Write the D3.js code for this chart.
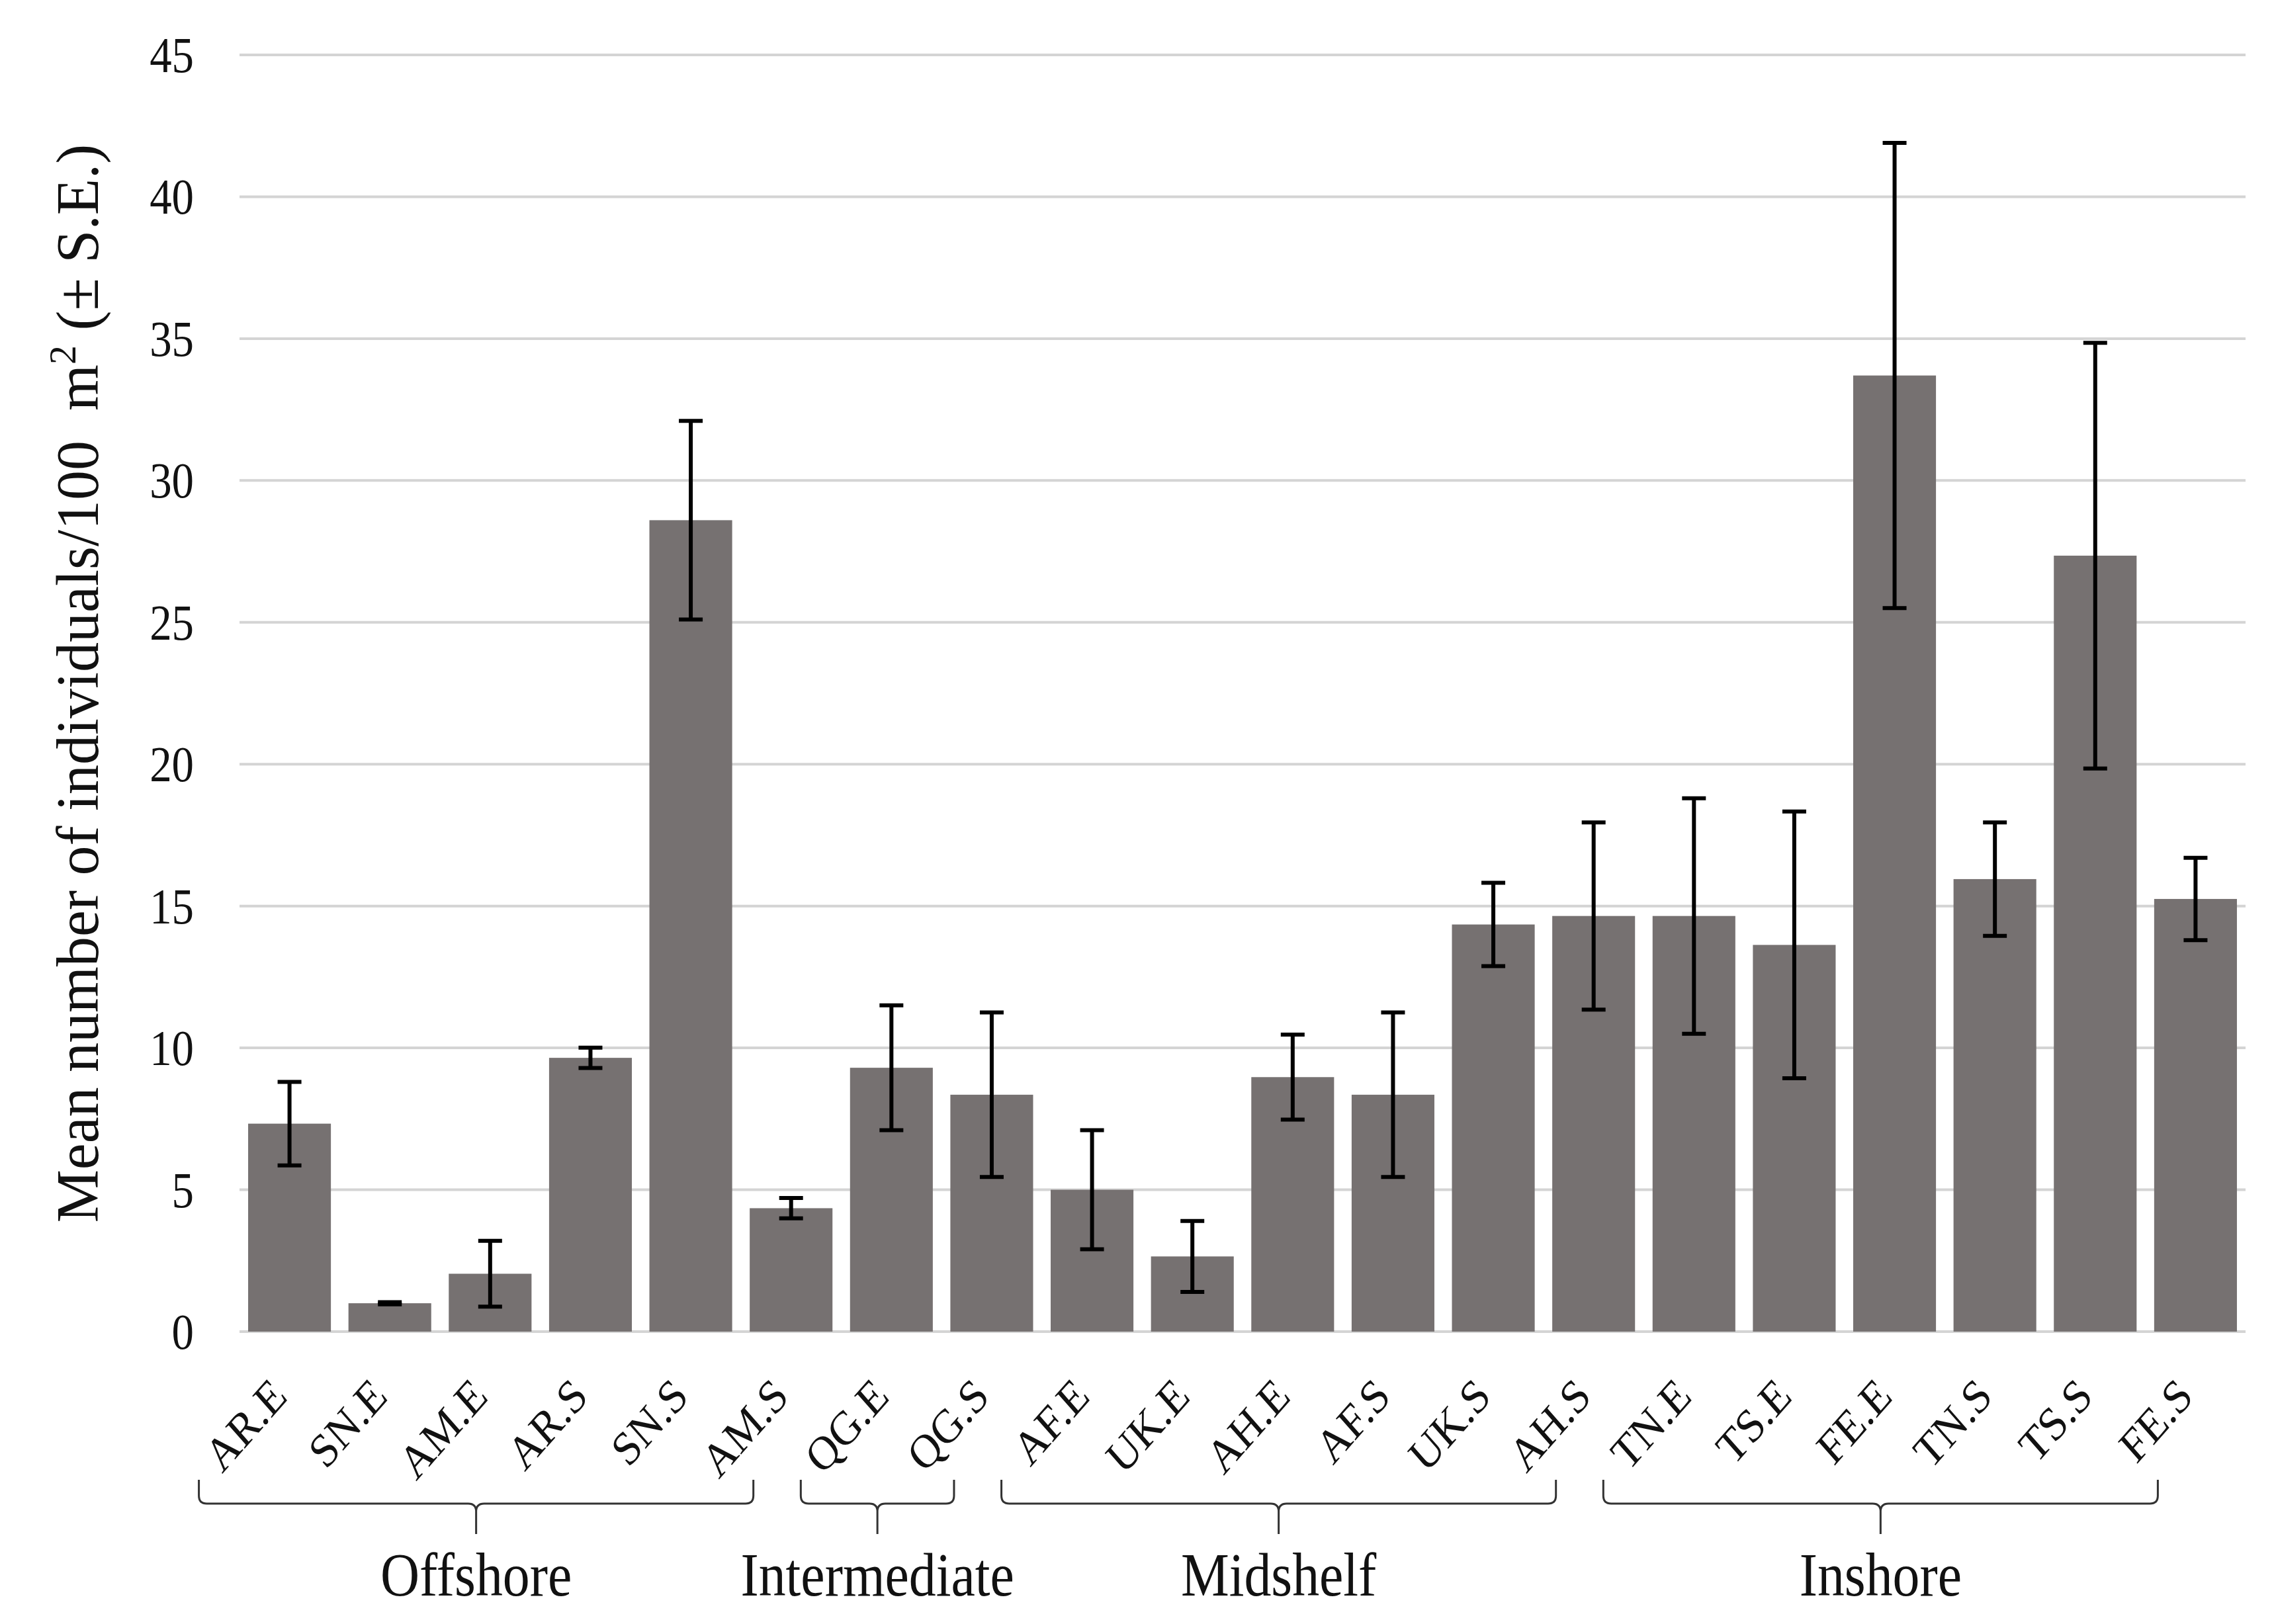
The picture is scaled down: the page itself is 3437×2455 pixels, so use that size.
<!DOCTYPE html>
<html>
<head>
<meta charset="utf-8">
<script src="https://cdn.jsdelivr.net/npm/d3@7"></script>
<style>
  body { margin: 0; background: #fff; }
  svg { display: block; font-family: "Liberation Serif", "Times New Roman", serif; }
</style>
</head>
<body>
<div id="chart"></div>
<script>
// Data
const sites = ["AR.E", "SN.E", "AM.E", "AR.S", "SN.S", "AM.S", "QG.E", "QG.S", "AF.E", "UK.E",
    "AH.E", "AF.S", "UK.S", "AH.S", "TN.E", "TS.E", "FE.E", "TN.S", "TS.S", "FE.S"];
const means = [7.33, 1.0, 2.04, 9.65, 28.6, 4.35, 9.3, 8.35, 5.0, 2.65,
    8.97, 8.35, 14.35, 14.65, 14.65, 13.63, 33.7, 15.95, 27.35, 15.25];
const se = [1.47, 0.04, 1.16, 0.36, 3.5, 0.36, 2.2, 2.9, 2.1, 1.25,
    1.5, 2.9, 1.47, 3.3, 4.15, 4.7, 8.2, 2.0, 7.5, 1.45];
const groups = ["Offshore", "Intermediate", "Midshelf", "Inshore"];
const groupFirst = ["AR.E", "QG.E", "AF.E", "TN.E"];
const groupLast = ["AM.S", "QG.S", "AH.S", "FE.S"];
const yTicks = [0, 5, 10, 15, 20, 25, 30, 35, 40, 45];

const width = 3437;
const height = 2455;
const plot = { left: 362, right: 3394, top: 83, bottom: 2013 };
const squash = 0.88; // text in the figure is slightly condensed

const svg = d3.select("#chart")
    .append("svg")
    .attr("width", width)
    .attr("height", height);

const x = d3.scaleBand()
    .domain(sites)
    .range([plot.left, plot.right])
    .paddingInner(0.175)
    .paddingOuter(0.086);

const y = d3.scaleLinear()
    .domain([0, 45])
    .range([plot.bottom, plot.top]);

// Gridlines
svg.append("g")
    .selectAll("line")
    .data(yTicks)
    .enter()
    .append("line")
    .attr("x1", plot.left)
    .attr("x2", plot.right)
    .attr("y1", d => y(d))
    .attr("y2", d => y(d))
    .attr("stroke", "#d4d4d4")
    .attr("stroke-width", 4);

// Y tick labels
svg.append("g")
    .selectAll("text")
    .data(yTicks)
    .enter()
    .append("text")
    .attr("transform", d => `translate(293, ${y(d) + 26}) scale(0.88, 1)`)
    .attr("text-anchor", "end")
    .style("font-size", "76px")
    .attr("fill", "#111")
    .text(d => d);

// Bars
const data = sites.map((s, i) => ({ site: s, mean: means[i], se: se[i] }));

svg.append("g")
    .selectAll("rect")
    .data(data)
    .enter()
    .append("rect")
    .attr("x", d => x(d.site))
    .attr("y", d => y(d.mean))
    .attr("width", x.bandwidth())
    .attr("height", d => y(0) - y(d.mean))
    .attr("fill", "#767171");

// Error bars
const err = svg.append("g")
    .attr("stroke", "#000")
    .attr("stroke-width", 6);
const cap = 18;

data.forEach(d => {
    const cx = x(d.site) + x.bandwidth() / 2;
    const yHi = y(d.mean + d.se);
    const yLo = y(d.mean - d.se);
    err.append("line")
        .attr("x1", cx).attr("x2", cx)
        .attr("y1", yHi).attr("y2", yLo);
    err.append("line")
        .attr("x1", cx - cap).attr("x2", cx + cap)
        .attr("y1", yHi).attr("y2", yHi);
    err.append("line")
        .attr("x1", cx - cap).attr("x2", cx + cap)
        .attr("y1", yLo).attr("y2", yLo);
});

// X labels, rotated
svg.append("g")
    .selectAll("text")
    .data(sites)
    .enter()
    .append("text")
    .attr("transform", d => `translate(${x(d) + x.bandwidth() / 2 - 1}, 2114) scale(${squash}, 1) rotate(-45)`)
    .attr("text-anchor", "end")
    .style("font-size", "72px")
    .attr("fill", "#111")
    .text(d => d);

// Group braces and labels
const braceTop = 2237;
const braceMid = 2273;
const braceTip = 2319;
const r = 12;

groups.forEach((g, i) => {
    const xl = x(groupFirst[i]) + x.bandwidth() / 2 - 137;
    const xr = x(groupLast[i]) + x.bandwidth() / 2 - 57;
    const xm = (xl + xr) / 2;

    const p = d3.path();
    p.moveTo(xl, braceTop);
    p.lineTo(xl, braceMid - r);
    p.quadraticCurveTo(xl, braceMid, xl + r, braceMid);
    p.lineTo(xm - r, braceMid);
    p.quadraticCurveTo(xm, braceMid, xm, braceMid + r);
    p.lineTo(xm, braceTip);
    p.moveTo(xm, braceMid + r);
    p.quadraticCurveTo(xm, braceMid, xm + r, braceMid);
    p.lineTo(xr - r, braceMid);
    p.quadraticCurveTo(xr, braceMid, xr, braceMid - r);
    p.lineTo(xr, braceTop);

    svg.append("path")
        .attr("d", p.toString())
        .attr("fill", "none")
        .attr("stroke", "#333")
        .attr("stroke-width", 3);

    svg.append("text")
        .attr("transform", `translate(${xm}, 2412) scale(${squash}, 1)`)
        .attr("text-anchor", "middle")
        .style("font-size", "93px")
        .attr("fill", "#111")
        .text(g);
});

// Y axis title
const yTitle = svg.append("text")
    .attr("transform", "translate(148, 1033) rotate(-90)")
    .attr("text-anchor", "middle")
    .style("font-size", "90px")
    .attr("fill", "#111");
yTitle.append("tspan").text("Mean number of individuals/100\u00a0 m");
yTitle.append("tspan").attr("dy", -34).style("font-size", "58px").text("2");
yTitle.append("tspan").attr("dy", 34).text(" (\u00b1 S.E.)");
</script>
</body>
</html>
